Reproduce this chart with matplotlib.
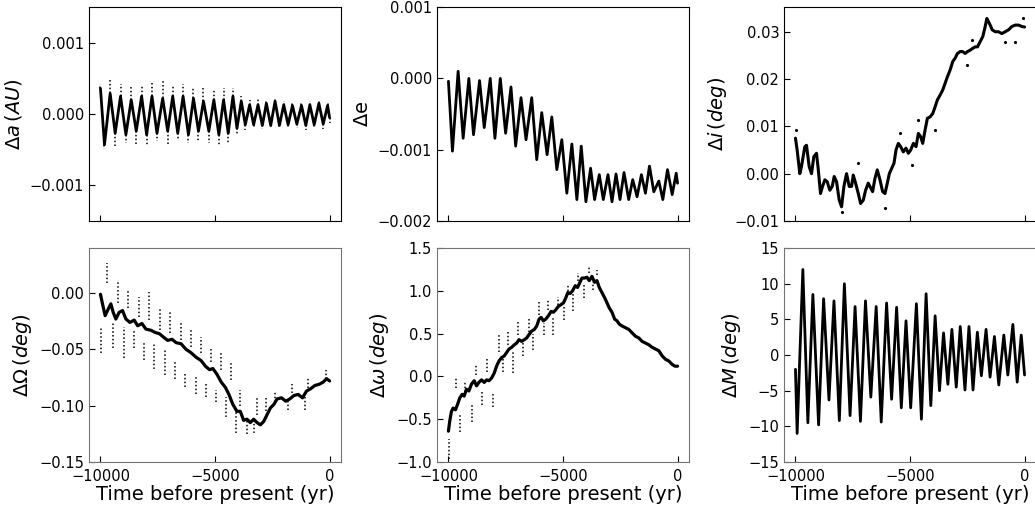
import numpy as np
import matplotlib
matplotlib.use("Agg")
import matplotlib.pyplot as plt
from matplotlib.ticker import FuncFormatter

# ---- data (time in yr before present) ----
# semi-major axis: extrema of the oscillation, plus scatter tips
a_t = [-10000, -9825, -9577, -9358, -9124, -8890, -8657, -8438, -8204, -7985,
       -7752, -7533, -7285, -7066, -6846, -6627, -6394, -6160, -5941, -5722,
       -5503, -5270, -5051, -4832, -4627, -4423, -4218, -4043,
       -3854, -3679, -3489, -3314, -3124, -2934, -2759, -2569, -2379, -2189,
       -2000, -1810, -1620, -1430, -1226, -1036, -861, -671, -467, -277, -87, 0]
a_v = [3.6e-4, -4.3e-4, 2.9e-4, -2.7e-4, 2.5e-4, -2.9e-4, 2.0e-4, -2.4e-4, 2.5e-4, -2.9e-4,
       2.5e-4, -2.7e-4, 2.2e-4, -2.4e-4, 2.5e-4, -2.7e-4, 2.5e-4, -2.9e-4, 2.2e-4, -2.4e-4,
       1.8e-4, -2.4e-4, 2.0e-4, -2.9e-4, 2.0e-4, -2.7e-4, 2.5e-4, -2.0e-4,
       1.8e-4, -1.5e-4, 1.3e-4, -1.5e-4, 1.3e-4, -1.6e-4, 1.5e-4, -1.6e-4, 1.8e-4, -1.6e-4,
       1.3e-4, -1.5e-4, 1.2e-4, -1.4e-4, 1.2e-4, -1.6e-4, 1.3e-4, -1.5e-4, 1.5e-4, -1.4e-4, 1.2e-4, -0.5e-4]
a_tip = [4.2e-4, -4.9e-4, 5.0e-4, -4.5e-4, 4.2e-4, -4.0e-4, 3.8e-4, -4.2e-4, 4.0e-4, -4.5e-4,
         4.3e-4, -3.8e-4, 4.7e-4, -4.2e-4, 4.0e-4, -3.5e-4, 4.2e-4, -4.0e-4, 3.8e-4, -3.8e-4,
         3.6e-4, -4.0e-4, 3.5e-4, -4.5e-4, 3.7e-4, -4.0e-4, 3.6e-4, -3.0e-4,
         2.5e-4, -2.2e-4, 2.0e-4, -2.0e-4, 2.2e-4, -2.1e-4, 2.0e-4, -2.0e-4, 2.2e-4, -2.0e-4,
         1.8e-4, -1.9e-4, 1.7e-4, -2.0e-4, 1.6e-4, -2.2e-4, 1.8e-4, -1.9e-4, 2.0e-4, -2.1e-4, 1.7e-4, -1.2e-4]

# eccentricity
e_t = [-10000, -9825, -9577, -9358, -9109, -8905, -8642, -8438, -8175, -7971,
       -7737, -7504, -7270, -7066, -6832, -6613, -6365, -6146, -5927, -5693,
       -5489, -5270, -5051, -4832, -4613, -4394, -4204, -4000, -3796, -3620,
       -3416, -3241, -3036, -2861, -2686, -2511, -2336, -2131, -1956, -1766,
       -1577, -1401, -1226, -1036, -818, -642, -438, -234, -58, 0]
e_v = [-0.04e-3, -1.02e-3, 0.10e-3, -0.84e-3, 0.0, -0.79e-3, -0.03e-3, -0.69e-3, 0.0, -0.84e-3,
       0.0, -0.77e-3, -0.12e-3, -0.95e-3, -0.27e-3, -0.86e-3, -0.27e-3, -1.14e-3, -0.48e-3, -1.07e-3,
       -0.54e-3, -1.28e-3, -0.86e-3, -1.61e-3, -0.92e-3, -1.70e-3, -0.95e-3, -1.73e-3, -1.26e-3, -1.70e-3,
       -1.35e-3, -1.70e-3, -1.35e-3, -1.73e-3, -1.34e-3, -1.70e-3, -1.32e-3, -1.70e-3, -1.42e-3, -1.66e-3,
       -1.35e-3, -1.61e-3, -1.23e-3, -1.59e-3, -1.44e-3, -1.70e-3, -1.28e-3, -1.63e-3, -1.33e-3, -1.47e-3]

# inclination (deg)
i_t = [-10000, -9927, -9810, -9738, -9592, -9519, -9402, -9300, -9198, -9082,
       -9009, -8907, -8819, -8717, -8615, -8499, -8397, -8309, -8207, -8090,
       -7988, -7886, -7770, -7653, -7551, -7478, -7376, -7259, -7157, -7041,
       -6939, -6822, -6749, -6633, -6531, -6429, -6312, -6195, -6093, -5991,
       -5904, -5802, -5700, -5612, -5510, -5408, -5292, -5175, -5073, -4971,
       -4854, -4738, -4636, -4534, -4446, -4344, -4242, -4125, -4009, -3907,
       -3805, -3688, -3571, -3469, -3367, -3251, -3134, -3032, -2930, -2813,
       -2697, -2595, -2493, -2376, -2259, -2157, -2055, -1939, -1822, -1720,
       -1647, -1574, -1501, -1414, -1283, -1137, -991, -845, -700, -554,
       -408, -262, -117, 0]
i_v = [0.0075, 0.0050, 0.0000, 0.0015, 0.0057, 0.0060, 0.0015, 0.0000, 0.0036, 0.0043,
       0.0011, -0.0042, -0.0027, -0.0013, -0.0017, -0.0035, -0.0027, -0.0006, -0.0017, -0.0056,
       -0.0070, -0.0027, 0.0000, -0.0027, -0.0027, -0.0003, -0.0020, -0.0042, -0.0063, -0.0056,
       -0.0035, -0.0020, -0.0027, -0.0038, -0.0010, 0.0008, -0.0013, -0.0038, -0.0042, -0.0020,
       0.0000, 0.0011, 0.0022, 0.0050, 0.0064, 0.0057, 0.0046, 0.0054, 0.0043, 0.0050,
       0.0064, 0.0057, 0.0085, 0.0078, 0.0064, 0.0092, 0.0117, 0.0120, 0.0127, 0.0141,
       0.0156, 0.0166, 0.0177, 0.0191, 0.0205, 0.0219, 0.0237, 0.0244, 0.0254, 0.0258,
       0.0258, 0.0254, 0.0258, 0.0261, 0.0265, 0.0268, 0.0268, 0.0279, 0.0290, 0.0311,
       0.0328, 0.0321, 0.0314, 0.0304, 0.0300, 0.0300, 0.0296, 0.0300, 0.0304, 0.0311,
       0.0314, 0.0314, 0.0311, 0.0310]
i_out_t = [-9956, -7263, -6095, -7989, -5440, -4640, -3909, -4928, -2523, -2304, -48, -411, -849]
i_out_v = [0.0092, 0.0022, -0.0073, -0.0080, 0.0085, 0.0113, 0.0092, 0.0018, 0.0230, 0.0283, 0.0328, 0.0279, 0.0279]

# longitude of node (deg)
o_t = [-10000, -9912, -9796, -9693, -9547, -9445, -9328, -9182, -9036, -8890,
       -8715, -8525, -8379, -8190, -8014, -7795, -7606, -7430, -7255, -7066,
       -6876, -6700, -6481, -6262, -6043, -5824, -5605, -5416, -5240, -5094,
       -4919, -4730, -4540, -4394, -4218, -4043, -3897, -3751, -3605, -3459,
       -3313, -3167, -3021, -2875, -2729, -2583, -2437, -2291, -2101, -1912,
       -1736, -1561, -1371, -1182, -1006, -831, -641, -452, -276, -130, 0]
o_v = [-0.001, -0.0095, -0.020, -0.0155, -0.0095, -0.017, -0.023, -0.017, -0.0155, -0.023,
       -0.026, -0.024, -0.029, -0.027, -0.032, -0.033, -0.035, -0.036, -0.039, -0.042,
       -0.041, -0.044, -0.045, -0.050, -0.053, -0.057, -0.060, -0.065, -0.068, -0.067,
       -0.072, -0.079, -0.084, -0.090, -0.099, -0.105, -0.105, -0.113, -0.112, -0.115,
       -0.112, -0.115, -0.117, -0.114, -0.108, -0.102, -0.099, -0.094, -0.093, -0.096,
       -0.094, -0.091, -0.090, -0.093, -0.087, -0.085, -0.082, -0.081, -0.079, -0.076, -0.078]
o_st_t = [-9693, -9255, -8787, -8336, -7867, -7398, -6947, -6478, -6040, -5602,
          -5195, -4757, -4319, -3894, -3167, -2755, -2391, -1660, -933, -157,
          -9956, -9474, -8993, -8524, -8086, -7648, -7179, -6728, -6303, -5821,
          -5383, -4945, -4507, -4069, -3600, -3300, -1800, -1078]
o_st_top = [0.0268, 0.0119, 0.0036, -0.0030, 0.0014, -0.0143, -0.0164, -0.0245, -0.0313, -0.0393,
            -0.0500, -0.0536, -0.0625, -0.0863, -0.0923, -0.0923, -0.0879, -0.0804, -0.0745, -0.0679,
            -0.0298, -0.0268, -0.0298, -0.0328, -0.0446, -0.0446, -0.0506, -0.0596, -0.0714, -0.0744,
            -0.0804, -0.0863, -0.0923, -0.1013, -0.1120, -0.1130, -0.0960, -0.0923]
o_st_bot = [0.0089, -0.0089, -0.0134, -0.0209, -0.0238, -0.0328, -0.0357, -0.0417, -0.0477, -0.0536,
            -0.0610, -0.0685, -0.0774, -0.1000, -0.1080, -0.1050, -0.0970, -0.0890, -0.0840, -0.0760,
            -0.0536, -0.0491, -0.0580, -0.0491, -0.0596, -0.0670, -0.0730, -0.0759, -0.0834, -0.0893,
            -0.0923, -0.0968, -0.1102, -0.1240, -0.1250, -0.1240, -0.1040, -0.1042]

# argument of perihelion (deg)
w_t = [-10000, -9942, -9869, -9796, -9693, -9606, -9504, -9401, -9314, -9212,
       -9109, -8993, -8876, -8774, -8671, -8555, -8438, -8336, -8233, -8117,
       -8000, -7898, -7795, -7679, -7562, -7460, -7357, -7241, -7124, -7022,
       -6919, -6803, -6686, -6584, -6481, -6365, -6248, -6146, -6043, -5956,
       -5854, -5751, -5635, -5518, -5416, -5313, -5197, -5080, -4978, -4875,
       -4788, -4686, -4584, -4467, -4364, -4277, -4175, -4058, -3956, -3853,
       -3737, -3620, -3518, -3416, -3299, -3182, -3080, -2978, -2861, -2744,
       -2642, -2540, -2423, -2277, -2131, -1985, -1839, -1693, -1547, -1401,
       -1255, -1109, -963, -817, -671, -525, -379, -233, -116, 0]
w_v = [-0.64, -0.52, -0.41, -0.37, -0.39, -0.33, -0.25, -0.21, -0.23, -0.15,
       -0.17, -0.09, -0.05, -0.11, -0.07, -0.04, -0.07, -0.04, -0.05, -0.02,
       0.04, 0.12, 0.18, 0.22, 0.24, 0.28, 0.32, 0.34, 0.37, 0.39,
       0.43, 0.41, 0.43, 0.45, 0.49, 0.53, 0.55, 0.59, 0.67, 0.69,
       0.65, 0.67, 0.71, 0.76, 0.75, 0.78, 0.82, 0.84, 0.86, 0.92,
       0.98, 0.97, 1.00, 1.06, 1.04, 1.09, 1.15, 1.15, 1.16, 1.12,
       1.17, 1.10, 1.12, 1.04, 0.98, 0.92, 0.86, 0.80, 0.75, 0.67,
       0.65, 0.61, 0.59, 0.57, 0.55, 0.51, 0.47, 0.45, 0.41, 0.39,
       0.37, 0.34, 0.32, 0.30, 0.24, 0.20, 0.18, 0.14, 0.12, 0.12]
w_st_t = [-9680, -9286, -8804, -8336, -7783, -7389, -6951, -6470, -6032, -5637,
          -5199, -4761, -4324, -3855, -3517,
          -9974, -9474, -8993, -8555, -8073, -7635, -7197, -6759, -6294, -5826,
          -5418, -4950, -4542, -4104, -3693]
w_st_top = [-0.004, -0.063, 0.141, 0.23, 0.485, 0.543, 0.66, 0.68, 0.875, 0.895,
            0.934, 1.07, 1.21, 1.285, 1.24,
            -0.73, -0.45, -0.335, -0.18, -0.18, 0.20, 0.30, 0.40, 0.50, 0.62,
            0.70, 0.82, 0.96, 1.08, 1.10]
w_st_bot = [-0.14, -0.18, 0.016, 0.055, 0.29, 0.367, 0.485, 0.523, 0.72, 0.778,
            0.836, 0.953, 1.11, 1.21, 1.19,
            -0.96, -0.65, -0.53, -0.336, -0.355, 0.055, 0.035, 0.235, 0.31, 0.485,
            0.49, 0.66, 0.76, 0.914, 1.01]

# mean anomaly (deg)
m_t = [-10000, -9927, -9678, -9459, -9240, -8991, -8772, -8538, -8319, -8085,
       -7865, -7617, -7398, -7164, -6944, -6711, -6477, -6257, -6023, -5804,
       -5585, -5380, -5175, -4971, -4722, -4503, -4298, -4094, -3904, -3713,
       -3538, -3348, -3173, -2982, -2807, -2602, -2427, -2251, -2061, -1886,
       -1681, -1506, -1316, -1126, -906, -731, -512, -322, -146, 0]
m_v = [-2.0, -11.0, 12.0, -9.5, 8.5, -9.8, 7.9, -6.3, 7.6, -9.2,
       10.0, -8.5, 6.8, -9.3, 7.6, -5.9, 6.8, -9.4, 7.3, -6.2,
       6.7, -7.4, 4.8, -7.4, 7.2, -9.0, 8.6, -7.1, 5.5, -5.0,
       3.1, -4.1, 3.6, -4.5, 4.0, -4.9, 4.0, -4.9, 3.2, -2.9,
       3.6, -3.1, 2.6, -4.2, 2.8, -2.8, 4.3, -3.8, 2.8, -2.8]


def fmt(nd):
    # tick labels with a real minus sign
    return FuncFormatter(lambda x, pos: ('%.*f' % (nd, x)).replace('-', '\u2212'))


def setup(ax, ylab, ylim, yticks, nd, bottom):
    ax.set_xlim(-10500, 500)
    ax.set_xticks([-10000, -5000, 0])
    ax.set_ylim(*ylim)
    ax.set_yticks(yticks)
    ax.yaxis.set_major_formatter(fmt(nd))
    ax.tick_params(direction='in', length=4, labelsize=10.5)
    ax.set_ylabel(ylab, fontsize=14)
    if bottom:
        ax.tick_params(axis='x', pad=5)
        ax.set_xlabel('Time before present (yr)', fontsize=14, labelpad=1)
        ax.set_xticklabels(['\u221210000', '\u22125000', '0'])
        for s in ax.spines.values():
            s.set_color('0.45')
    else:
        ax.set_xticklabels([])


def curve(ax, t, v, lw):
    ax.plot(t, v, color='k', lw=lw, solid_joinstyle='round', solid_capstyle='round')


fig = plt.figure(figsize=(10.35, 5.08), dpi=100)
lefts = [0.086, 0.4222, 0.7575]
w, h = 0.2435, 0.421
ax1 = fig.add_axes([lefts[0], 0.565, w, h])
ax2 = fig.add_axes([lefts[1], 0.565, w, h])
ax3 = fig.add_axes([lefts[2], 0.565, w, h])
ax4 = fig.add_axes([lefts[0], 0.0906, w, h])
ax5 = fig.add_axes([lefts[1], 0.0906, w, h])
ax6 = fig.add_axes([lefts[2], 0.0906, w, h])

dots = (0, (1, 1.5))

# delta a
ax1.vlines(a_t, a_v, a_tip, colors='k', linestyles=dots, lw=1.1)
curve(ax1, a_t, a_v, 2.0)
setup(ax1, r'$\Delta a\,(AU)$', (-0.0015, 0.0015), [-0.001, 0.0, 0.001], 3, False)

# delta e
curve(ax2, e_t, e_v, 2.0)
setup(ax2, r'$\Delta$e', (-0.002, 0.001), [-0.002, -0.001, 0.0, 0.001], 3, False)

# delta i
curve(ax3, i_t, i_v, 2.2)
ax3.plot(i_out_t, i_out_v, 'k.', ms=2.5)
setup(ax3, r'$\Delta i\,(deg)$', (-0.01, 0.0352), [-0.01, 0.0, 0.01, 0.02, 0.03], 2, False)

# delta Omega
ax4.vlines(o_st_t, o_st_bot, o_st_top, colors='k', linestyles=dots, lw=1.1)
curve(ax4, o_t, o_v, 2.3)
setup(ax4, r'$\Delta\Omega\,(deg)$', (-0.15, 0.040), [-0.15, -0.10, -0.05, 0.0], 2, True)

# delta omega
ax5.vlines(w_st_t, w_st_bot, w_st_top, colors='k', linestyles=dots, lw=1.1)
curve(ax5, w_t, w_v, 2.3)
setup(ax5, r'$\Delta\omega\,(deg)$', (-1.0, 1.5), [-1.0, -0.5, 0.0, 0.5, 1.0, 1.5], 1, True)

# delta M
curve(ax6, m_t, m_v, 2.0)
setup(ax6, r'$\Delta M\,(deg)$', (-15, 15), [-15, -10, -5, 0, 5, 10, 15], 0, True)

fig.savefig('out.png', dpi=100)
